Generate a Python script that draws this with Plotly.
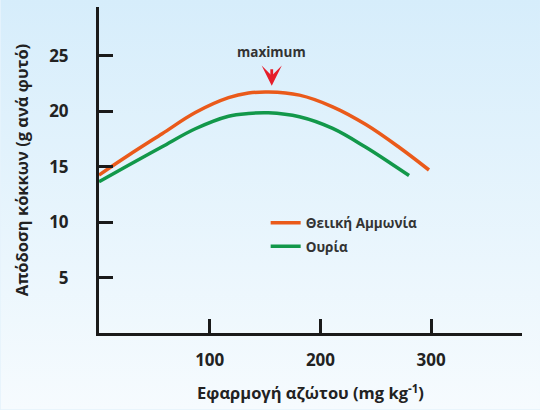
import plotly.graph_objects as go

# Data
nitrogen_amm = [0, 27, 57, 87, 117, 135, 153, 181, 211, 241, 271, 298]
yield_amm = [14.25, 16.05, 17.97, 19.88, 21.22, 21.64, 21.74, 21.45, 20.4, 18.8, 16.75, 14.7]
nitrogen_urea = [0, 27, 57, 87, 117, 135, 153, 181, 211, 241, 265, 280]
yield_urea = [13.65, 15.15, 16.8, 18.42, 19.55, 19.8, 19.86, 19.5, 18.45, 16.75, 15.2, 14.2]
series_names = ["Θειική Αμμωνία", "Ουρία"]
x_ticks = [100, 200, 300]
y_ticks = [5, 10, 15, 20, 25]
max_x = 156
max_y = 22.3

ORANGE = "#ea5a1a"
GREEN = "#12984a"
FONT = "Open Sans"

L, R, T, B = 98.5, 18, 7, 76.5
PW, PH = 540 - L - R, 410 - T - B

bg_svg = ("data:image/svg+xml;utf8,"
          "<svg xmlns='http://www.w3.org/2000/svg' width='540' height='410' preserveAspectRatio='none'>"
          "<defs><linearGradient id='g' x1='0' y1='0' x2='0' y2='1'>"
          "<stop offset='0' stop-color='%23d6edfb'/><stop offset='1' stop-color='%23f6fbfe'/>"
          "</linearGradient></defs><rect width='540' height='410' fill='url(%23g)'/></svg>")

fig = go.Figure()
fig.add_trace(go.Scatter(x=nitrogen_amm, y=yield_amm, mode="lines", name=series_names[0],
                         line=dict(color=ORANGE, width=3.5, shape="spline", smoothing=1.0),
                         legendgroup="a"))
fig.add_trace(go.Scatter(x=nitrogen_urea, y=yield_urea, mode="lines", name=series_names[1],
                         line=dict(color=GREEN, width=3.5, shape="spline", smoothing=1.0),
                         legendgroup="b"))

fig.add_annotation(x=max_x, y=max_y, ax=0, ay=-34, text="maximum", showarrow=True,
                   startstandoff=7, arrowhead=3, arrowsize=1.2, arrowwidth=2.8,
                   arrowcolor="#e61e2a",
                   font=dict(family=FONT, size=13.5, color="#333333", weight="bold"))

fig.add_layout_image(dict(source=bg_svg, xref="paper", yref="paper", x=-L / PW, y=1 + T / PH,
                          sizex=540 / PW, sizey=410 / PH, xanchor="left", yanchor="top",
                          sizing="stretch", layer="below"))

fig.update_layout(
    width=540, height=410,
    margin=dict(l=L, r=R, t=T, b=B, autoexpand=False),
    paper_bgcolor="#e6f3fc", plot_bgcolor="rgba(0,0,0,0)",
    font=dict(family=FONT, color="#222222"),
    showlegend=True,
    legend=dict(x=0.394, y=0.385, xanchor="left", yanchor="top",
                bgcolor="rgba(0,0,0,0)", traceorder="grouped", tracegroupgap=3,
                font=dict(family=FONT, size=13.5, color="#333333", weight="bold")),
    xaxis=dict(range=[0, 382], tickvals=x_ticks, ticks="inside", ticklen=14, tickwidth=3,
               tickcolor="#1a1a1a", showline=True, linecolor="#1a1a1a", linewidth=3,
               showgrid=False, zeroline=False, automargin=False, ticklabelstandoff=10,
               tickfont=dict(family=FONT, size=17, color="#222222", weight="bold"),
               title=dict(text="Εφαρμογή αζώτου (mg kg<sup>-1</sup>)", standoff=18,
                          font=dict(family=FONT, size=16.5, color="#222222", weight="bold"))),
    yaxis=dict(range=[0, 29.4], tickvals=y_ticks, ticks="inside", ticklen=14, tickwidth=3,
               tickcolor="#1a1a1a", showline=True, linecolor="#1a1a1a", linewidth=3,
               showgrid=False, zeroline=False, automargin=False, ticklabelstandoff=24,
               tickfont=dict(family=FONT, size=17, color="#222222", weight="bold"),
               title=dict(text="Απόδοση κόκκων (g ανά φυτό)", standoff=17,
                          font=dict(family=FONT, size=16.5, color="#222222", weight="bold"))),
)

fig.write_html("out.html", config={"displayModeBar": False},
               post_script="document.body.style.margin='0';document.body.style.padding='0';")
